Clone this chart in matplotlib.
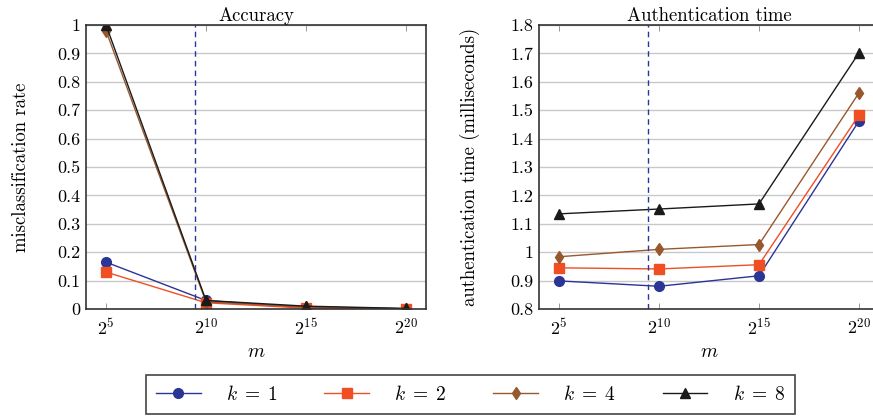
import matplotlib
matplotlib.use("Agg")
import matplotlib.pyplot as plt
from matplotlib.ticker import FuncFormatter

# ==============================
# DATA
# ==============================
log2_m = [5, 10, 15, 20]
x_labels = [r"$2^{5}$", r"$2^{10}$", r"$2^{15}$", r"$2^{20}$"]
k_values = [1, 2, 4, 8]

# misclassification rate per k
acc_k1 = [0.165, 0.030, 0.005, 0.001]
acc_k2 = [0.130, 0.022, 0.003, 0.000]
acc_k4 = [0.980, 0.025, 0.008, 0.001]
acc_k8 = [1.000, 0.030, 0.010, 0.002]

# authentication time (ms) per k
time_k1 = [0.899, 0.880, 0.917, 1.462]
time_k2 = [0.945, 0.941, 0.956, 1.483]
time_k4 = [0.984, 1.010, 1.027, 1.561]
time_k8 = [1.135, 1.152, 1.170, 1.702]

threshold = 9.45  # dashed vertical line (log2 m)

# ==============================
# STYLE
# ==============================
plt.rcParams["font.family"] = "cmr10"
plt.rcParams["mathtext.fontset"] = "cm"
plt.rcParams["axes.unicode_minus"] = False

colors = ["#2b3595", "#f04e23", "#98582e", "#1a1a1a"]
markers = ["o", "s", "d", "^"]
msizes = [7, 7, 6, 7]

fig = plt.figure(figsize=(8.73, 4.18), dpi=100)
ax1 = fig.add_axes([86 / 873, 1 - 309 / 418, 340 / 873, 284 / 418])
ax2 = fig.add_axes([539 / 873, 1 - 309 / 418, 340 / 873, 284 / 418])

fmt = FuncFormatter(lambda v, p: "%g" % round(v, 2))


def style(ax, ylim, yticks, title, ylabel, ylabelpad):
    ax.set_xlim(4, 21)
    ax.set_ylim(*ylim)
    ax.set_xticks(log2_m)
    ax.set_xticklabels(x_labels, fontsize=14.5)
    ax.set_yticks(yticks)
    ax.yaxis.set_major_formatter(fmt)
    ax.tick_params(direction="in", top=True, right=True, labelsize=13,
                   length=4, width=0.6, color="#888888", pad=6)
    ax.tick_params(axis="y", length=0, pad=4)
    ax.grid(axis="y", color="#c8c8c8", linewidth=1)
    ax.set_axisbelow(True)
    for s in ax.spines.values():
        s.set_linewidth(1.2)
        s.set_color("#333333")
    ax.axvline(threshold, color="#2b3595", linestyle=(0, (4, 3)), linewidth=1)
    ax.set_title(title, fontsize=13.5, pad=3)
    ax.set_xlabel(r"$m$", fontsize=14, labelpad=4)
    ax.set_ylabel(ylabel, fontsize=13.5, labelpad=ylabelpad)


acc = [acc_k1, acc_k2, acc_k4, acc_k8]
times = [time_k1, time_k2, time_k4, time_k8]

handles = []
for i, k in enumerate(k_values):
    h, = ax1.plot(log2_m, acc[i], color=colors[i], marker=markers[i],
                  markersize=msizes[i], linewidth=1, label=r"$k\;=\;%d$" % k)
    ax2.plot(log2_m, times[i], color=colors[i], marker=markers[i],
             markersize=msizes[i], linewidth=1)
    handles.append(h)

style(ax1, (0, 1), [i / 10 for i in range(11)], "Accuracy",
      "misclassification rate", 20)
style(ax2, (0.8, 1.8), [0.8 + i / 10 for i in range(11)], "Authentication time",
      "authentication time (milliseconds)", 22)

leg = fig.legend(handles=handles, loc="center",
                 bbox_to_anchor=(470.5 / 873, 1 - 394.5 / 418),
                 ncol=4, fontsize=14, handlelength=2.3,
                 handletextpad=1.3, columnspacing=2.4, borderpad=0.5,
                 fancybox=False, framealpha=1, edgecolor="#444444")
leg.get_frame().set_linewidth(1.2)

fig.savefig("out.png", dpi=100)
